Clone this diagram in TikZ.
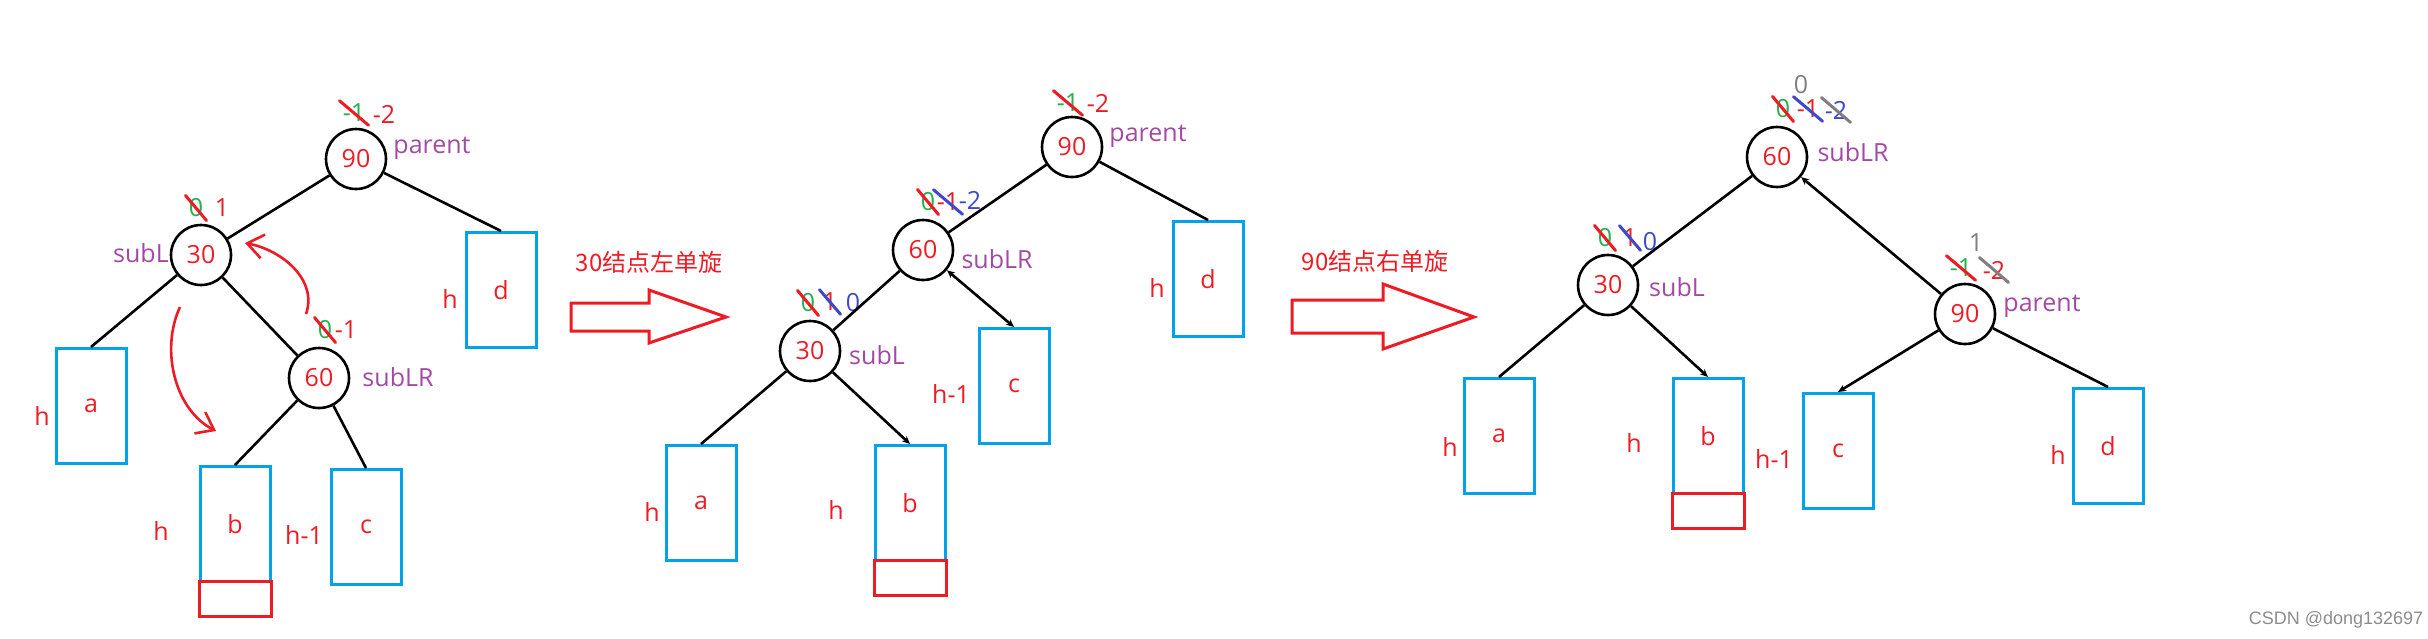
\documentclass[tikz,border=0pt]{standalone}
\usepackage{fontspec}
\setmainfont{Open Sans}
\newfontfamily\cjk{Noto Sans CJK SC}
\newfontfamily\wmfont{Liberation Sans}
\usetikzlibrary{arrows.meta}

\definecolor{pred}{RGB}{237,28,36}
\definecolor{pgreen}{RGB}{34,177,76}
\definecolor{pblue}{RGB}{0,162,232}
\definecolor{pindigo}{RGB}{63,72,204}
\definecolor{ppurple}{RGB}{163,73,164}
\definecolor{pgray}{RGB}{127,127,127}
\newcommand\lab{\fontsize{12.5}{15}\selectfont}

\begin{document}
\begin{tikzpicture}[x=0.5pt,y=-0.5pt,
    num/.style={circle,draw,line width=1.3pt,minimum size=30pt,inner sep=0pt,text=pred,font=\lab},
    box/.style={rectangle,draw=pblue,line width=1.5pt,minimum width=35pt,minimum height=57.5pt,inner sep=0pt,text=pred,font=\lab},
    newbox/.style={rectangle,draw=pred,line width=1.5pt,minimum width=36pt,minimum height=17.5pt,inner sep=0pt},
    ht/.style={text=pred,font=\lab,inner sep=0pt},
    role/.style={text=ppurple,font=\lab,inner sep=0pt},
    bf/.style={font=\lab,inner sep=1.5pt},
    strike/.style={line width=1.5pt,line cap=round},
    link/.style={line width=1.3pt},
    headed/.style={-{Stealth[length=4pt,width=3.5pt]}},
    curl/.style={pred,line width=1.3pt,-{Straight Barb[length=8pt,width=12pt]}},
    hollow/.style={draw=pred,line width=1.5pt},
    caption/.style={text=pred,font=\cjk\fontsize{12}{14}\selectfont}]

    \useasboundingbox (0,0) rectangle (2428,638);

    % before: 30 and 60 in the left subtree of 90
    \node[num] (P1) at (356,159) {90};
    \node[num] (L1) at (201,255) {30};
    \node[num] (LR1) at (319,378) {60};
    \node[role] (t1p) at (432,148) {parent};
    \node[role] (t1l) at (141,253) {subL};
    \node[role] (t1lr) at (398,377) {subLR};

    \node[box] (a1) at (91,406) {a};
    \node[box] (b1) at (235,524) {b};
    \node[newbox] (n1) at (235,599) {};
    \node[box] (c1) at (366,527) {c};
    \node[box] (d1) at (501,290) {d};
    \node[ht] (h1a) at (42,416) {h};
    \node[ht] (h1b) at (161,531) {h};
    \node[ht] (h1c) at (304,535) {h-1};
    \node[ht] (h1d) at (450,299) {h};

    \node[bf,text=pgreen] (P1o) at (354,113) {-1};
    \node[bf,text=pred] (P1n) at (384,114) {-2};
    \node[bf,text=pgreen] (L1o) at (196,208) {0};
    \node[bf,text=pred] (L1n) at (222,208) {1};
    \node[bf,text=pgreen] (LR1o) at (325,330) {0};
    \node[bf,text=pred] (LR1n) at (346,330) {-1};
    \draw[strike,pred] (P1o.north west) -- (P1o.south east);
    \draw[strike,pred] (L1o.north west) -- (L1o.south east);
    \draw[strike,pred] (LR1o.north west) -- (LR1o.south east);

    \draw[link] (P1) -- (L1);
    \draw[link] (P1) -- (d1.north);
    \draw[link] (L1) -- (a1.north);
    \draw[link] (L1) -- (LR1);
    \draw[link] (LR1) -- (b1.north);
    \draw[link] (LR1) -- (c1.north);

    \coordinate (u1) at (306,314);
    \coordinate (u2) at (245,243);
    \coordinate (w1) at (180,307);
    \coordinate (w2) at (216,431);
    \draw[curl] (u1) .. controls (318,280) and (282,250) .. (u2);
    \draw[curl] (w1) .. controls (160,350) and (175,410) .. (w2);

    % first step
    \node[caption] (s1) at (649,262) {30结点左单旋};
    \draw[hollow] (571,303) -- (649,303) -- (649,290) -- (726,317)
        -- (649,343) -- (649,331) -- (571,331) -- cycle;

    % after left rotation at 30
    \node[num] (P2) at (1072,147) {90};
    \node[num] (LR2) at (923,250) {60};
    \node[num] (L2) at (810,351) {30};
    \node[role] (t2p) at (1148,136) {parent};
    \node[role] (t2lr) at (997,259) {subLR};
    \node[role] (t2l) at (877,355) {subL};

    \node[box] (a2) at (701,503) {a};
    \node[box] (b2) at (910,503) {b};
    \node[newbox] (n2) at (910,578) {};
    \node[box] (c2) at (1014,386) {c};
    \node[box] (d2) at (1208,279) {d};
    \node[ht] (h2a) at (652,512) {h};
    \node[ht] (h2b) at (836,510) {h};
    \node[ht] (h2c) at (951,394) {h-1};
    \node[ht] (h2d) at (1157,288) {h};

    \node[bf,text=pgreen] (P2o) at (1068,103) {-1};
    \node[bf,text=pred] (P2n) at (1098,103) {-2};
    \node[bf,text=pgreen] (LR2o) at (928,202) {0};
    \node[bf,text=pred] (LR2n) at (948,202) {-1};
    \node[bf,text=pindigo] (LR2m) at (970,200) {-2};
    \node[bf,text=pgreen] (L2o) at (808,303) {0};
    \node[bf,text=pred] (L2n) at (830,302) {1};
    \node[bf,text=pindigo] (L2m) at (853,303) {0};
    \draw[strike,pred] (P2o.north west) -- (P2o.south east);
    \draw[strike,pred] (LR2o.north west) -- (LR2o.south east);
    \draw[strike,pindigo] (LR2n.north west) -- (LR2n.south east);
    \draw[strike,pred] (L2o.north west) -- (L2o.south east);
    \draw[strike,pindigo] (L2n.north west) -- (L2n.south east);

    \draw[link] (P2) -- (LR2);
    \draw[link] (P2) -- (d2.north);
    \draw[link] (LR2) -- (L2);
    \draw[link,{Stealth[length=4pt,width=3.5pt]}-{Stealth[length=4pt,width=3.5pt]}] (LR2) -- (c2.north);
    \draw[link] (L2) -- (a2.north);
    \draw[link,headed] (L2) -- (b2.north);

    % second step
    \node[caption] (s2) at (1375,261) {90结点右单旋};
    \draw[hollow] (1292,300) -- (1383,300) -- (1383,284) -- (1474,317)
        -- (1383,349) -- (1383,333) -- (1292,333) -- cycle;

    % after right rotation at 90
    \node[num] (LR3) at (1777,157) {60};
    \node[num] (L3) at (1608,285) {30};
    \node[num] (P3) at (1965,314) {90};
    \node[role] (t3lr) at (1853,152) {subLR};
    \node[role] (t3l) at (1677,287) {subL};
    \node[role] (t3p) at (2042,306) {parent};

    \node[box] (a3) at (1499,436) {a};
    \node[box] (b3) at (1708,436) {b};
    \node[newbox] (n3) at (1708,511) {};
    \node[box] (c3) at (1838,451) {c};
    \node[box] (d3) at (2108,446) {d};
    \node[ht] (h3a) at (1450,447) {h};
    \node[ht] (h3b) at (1634,443) {h};
    \node[ht] (h3c) at (1774,459) {h-1};
    \node[ht] (h3d) at (2058,455) {h};

    \node[bf,text=pgray] (LR3f) at (1801,85) {0};
    \node[bf,text=pgreen] (LR3o) at (1783,109) {0};
    \node[bf,text=pred] (LR3n) at (1808,109) {-1};
    \node[bf,text=pindigo] (LR3m) at (1836,110) {-2};
    \node[bf,text=pgreen] (L3o) at (1605,238) {0};
    \node[bf,text=pred] (L3n) at (1630,238) {1};
    \node[bf,text=pindigo] (L3m) at (1650,242) {0};
    \node[bf,text=pgray] (P3f) at (1976,243) {1};
    \node[bf,text=pgreen] (P3o) at (1961,268) {-1};
    \node[bf,text=pred] (P3n) at (1994,270) {-2};
    \draw[strike,pred] (LR3o.north west) -- (LR3o.south east);
    \draw[strike,pindigo] (LR3n.north west) -- (LR3n.south east);
    \draw[strike,pgray] (LR3m.north west) -- (LR3m.south east);
    \draw[strike,pred] (L3o.north west) -- (L3o.south east);
    \draw[strike,pindigo] (L3n.north west) -- (L3n.south east);
    \draw[strike,pred] (P3o.north west) -- (P3o.south east);
    \draw[strike,pgray] (P3n.north west) -- (P3n.south east);

    \draw[link] (LR3) -- (L3);
    \draw[link,headed] (P3) -- (LR3);
    \draw[link] (L3) -- (a3.north);
    \draw[link,headed] (L3) -- (b3.north);
    \draw[link,headed] (P3) -- (c3.north);
    \draw[link] (P3) -- (d3.north);

    \node[text=black!45,font=\wmfont\fontsize{9}{10}\selectfont] (wm) at (2336,620) {CSDN @dong132697};
\end{tikzpicture}
\end{document}
